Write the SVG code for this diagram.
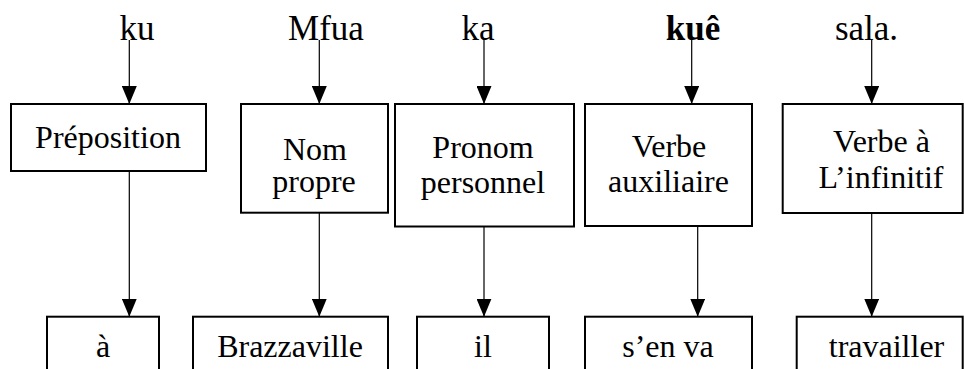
<svg xmlns="http://www.w3.org/2000/svg" width="964" height="369" viewBox="0 0 964 369">
<defs>
<marker id="ah" viewBox="0 0 18 15" refX="18" refY="7.5" markerWidth="18" markerHeight="15" markerUnits="userSpaceOnUse" orient="auto">
<path d="M0,0 L18,7.5 L0,15 Z" fill="#000"/>
</marker>
<style>
.box{fill:#fff;stroke:#000;stroke-width:2}
.c{stroke:#000;stroke-width:1.2;fill:none;marker-end:url(#ah)}
</style>
</defs>
<rect width="964" height="369" fill="#fff"/>
<g id="words" font-family="Liberation Serif" font-size="35" text-anchor="middle">
<text x="137" y="40">ku</text>
<text x="326" y="40">Mfua</text>
<text x="478" y="40">ka</text>
<text x="693" y="40" font-weight="bold">kuê</text>
<text x="866.5" y="40">sala.</text>
</g>
<g id="connectors">
<line class="c" x1="129.3" y1="40" x2="129.3" y2="104"/>
<line class="c" x1="319.3" y1="40" x2="319.3" y2="104"/>
<line class="c" x1="484" y1="40" x2="484" y2="104"/>
<line class="c" x1="691.7" y1="40" x2="691.7" y2="104"/>
<line class="c" x1="871.7" y1="40" x2="871.7" y2="104"/>
<line class="c" x1="129.3" y1="171" x2="129.3" y2="316.7"/>
<line class="c" x1="319.3" y1="212.7" x2="319.3" y2="316.7"/>
<line class="c" x1="484" y1="226.5" x2="484" y2="316.7"/>
<line class="c" x1="697.7" y1="226" x2="697.7" y2="316.7"/>
<line class="c" x1="871.7" y1="213" x2="871.7" y2="316.7"/>
</g>
<g id="n-preposition">
<rect class="box" x="11" y="104" width="195" height="67"/>
<text font-family="Liberation Serif" font-size="32" text-anchor="middle" x="108" y="148">Préposition</text>
</g>
<g id="n-nompropre">
<rect class="box" x="241" y="104" width="147" height="108.7"/>
<text font-family="Liberation Serif" font-size="32" text-anchor="middle" x="315" y="160">Nom</text>
<text font-family="Liberation Serif" font-size="32" text-anchor="middle" x="314" y="192">propre</text>
</g>
<g id="n-pronom">
<rect class="box" x="395" y="104" width="179" height="122.5"/>
<text font-family="Liberation Serif" font-size="32" text-anchor="middle" x="483" y="158">Pronom</text>
<text font-family="Liberation Serif" font-size="32" text-anchor="middle" x="483" y="193">personnel</text>
</g>
<g id="n-verbeaux">
<rect class="box" x="585" y="104" width="167" height="122"/>
<text font-family="Liberation Serif" font-size="32" text-anchor="middle" x="669" y="157">Verbe</text>
<text font-family="Liberation Serif" font-size="32" text-anchor="middle" x="668.5" y="192">auxiliaire</text>
</g>
<g id="n-verbeinf">
<rect class="box" x="782.7" y="104" width="180" height="109"/>
<text font-family="Liberation Serif" font-size="32" text-anchor="middle" x="881.5" y="151.7">Verbe à</text>
<text font-family="Liberation Serif" font-size="32" text-anchor="middle" x="881" y="188">L’infinitif</text>
</g>
<g id="n-a">
<rect class="box" x="47" y="316.7" width="112" height="70"/>
<text font-family="Liberation Serif" font-size="32" text-anchor="middle" x="103" y="356.7">à</text>
</g>
<g id="n-brazzaville">
<rect class="box" x="193" y="316.7" width="195" height="70"/>
<text font-family="Liberation Serif" font-size="32" text-anchor="middle" x="290" y="356.7">Brazzaville</text>
</g>
<g id="n-il">
<rect class="box" x="417" y="316.7" width="132" height="70"/>
<text font-family="Liberation Serif" font-size="32" text-anchor="middle" x="483" y="356.7">il</text>
</g>
<g id="n-senva">
<rect class="box" x="585" y="316.7" width="167" height="70"/>
<text font-family="Liberation Serif" font-size="32" text-anchor="middle" x="668" y="356.7">s’en va</text>
</g>
<g id="n-travailler">
<rect class="box" x="796.7" y="316.7" width="166" height="70"/>
<text font-family="Liberation Serif" font-size="32" text-anchor="middle" x="886.5" y="356.7">travailler</text>
</g>
</svg>
